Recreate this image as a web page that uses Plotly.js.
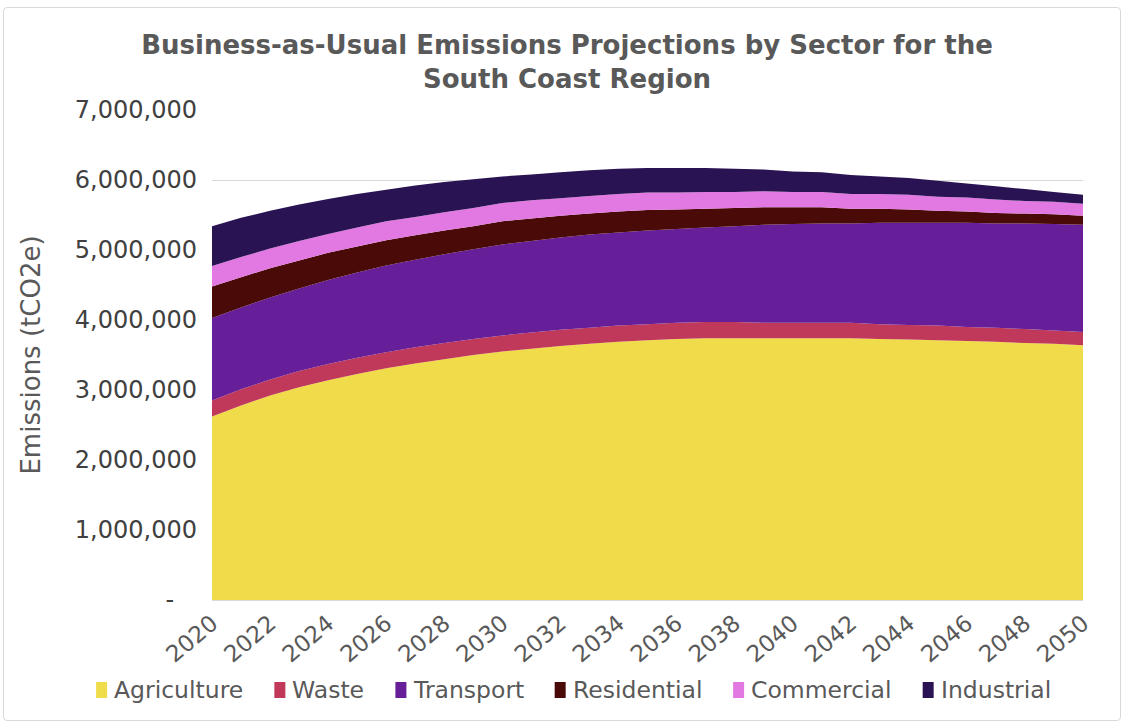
<!DOCTYPE html>
<html>
<head>
<meta charset="utf-8">
<script src="https://cdn.plot.ly/plotly-3.0.1.min.js"></script>
<style>
  html, body { margin: 0; padding: 0; background: #ffffff; }
  #wrap { position: relative; width: 1125px; height: 725px; }
  #chart { width: 1125px; height: 725px; }
  #frame { position: absolute; left: 3px; top: 7px; width: 1118px; height: 714px;
           border: 1.5px solid #d9d9d9; border-radius: 4px; pointer-events: none; box-sizing: border-box; }
</style>
</head>
<body>
<div id="wrap"><div id="chart"></div><div id="frame"></div></div>
<script>
const years = [2020,2021,2022,2023,2024,2025,2026,2027,2028,2029,2030,2031,2032,2033,2034,2035,2036,2037,2038,2039,2040,2041,2042,2043,2044,2045,2046,2047,2048,2049,2050];

const agriculture = [2620000,2780000,2920000,3040000,3140000,3230000,3310000,3380000,3440000,3500000,3550000,3590000,3630000,3660000,3690000,3710000,3730000,3740000,3740000,3740000,3740000,3740000,3740000,3730000,3720000,3710000,3700000,3690000,3670000,3660000,3640000];
const waste = [230000,230000,230000,230000,230000,230000,230000,230000,230000,230000,230000,230000,230000,230000,230000,230000,230000,230000,230000,220000,220000,220000,220000,210000,210000,210000,200000,200000,200000,190000,190000];
const transport = [1180000,1170000,1170000,1180000,1200000,1220000,1240000,1250000,1270000,1280000,1300000,1310000,1320000,1330000,1330000,1340000,1340000,1350000,1370000,1400000,1410000,1420000,1420000,1450000,1460000,1470000,1490000,1490000,1510000,1520000,1530000];
const residential = [450000,430000,420000,400000,390000,370000,360000,350000,340000,330000,330000,320000,310000,300000,300000,290000,280000,270000,260000,250000,240000,230000,210000,200000,190000,170000,160000,150000,140000,140000,130000];
const commercial = [290000,290000,280000,280000,270000,270000,270000,260000,260000,260000,260000,260000,250000,250000,250000,250000,240000,240000,230000,230000,220000,220000,210000,210000,210000,200000,200000,190000,180000,180000,170000];
const industrial = [570000,560000,540000,520000,500000,480000,450000,450000,430000,410000,380000,370000,370000,370000,360000,350000,350000,340000,330000,310000,290000,280000,270000,250000,240000,230000,200000,190000,170000,140000,130000];

const sectorNames = ["Agriculture","Waste","Transport","Residential","Commercial","Industrial"];
const sectorColors = ["#F0DC4A","#C0395A","#661E99","#4A0A07","#E279E2","#2A1352"];
const sectorValues = [agriculture, waste, transport, residential, commercial, industrial];

const yTickVals = [0,1000000,2000000,3000000,4000000,5000000,6000000,7000000];
const yTickText = ["-\u00a0\u00a0\u00a0","1,000,000","2,000,000","3,000,000","4,000,000","5,000,000","6,000,000","7,000,000"];
const xTickVals = [2020,2022,2024,2026,2028,2030,2032,2034,2036,2038,2040,2042,2044,2046,2048,2050];

const font = "DejaVu Sans, Verdana, sans-serif";
const W = 1125, H = 725;
const M = { l: 212, r: 42, t: 110, b: 125 };
const plotW = W - M.l - M.r, plotH = H - M.t - M.b;
const px2x = px => (px - M.l) / plotW;
const py2y = py => (H - M.b - py) / plotH;

const traces = sectorNames.map((name, i) => ({
  type: "scatter", x: years, y: sectorValues[i], name: name,
  stackgroup: "one", mode: "none", fillcolor: sectorColors[i],
  line: { width: 0 }, showlegend: false, hoverinfo: "x+y+name"
}));

// Excel-style legend built from the sector names and colours
const legendFontSize = 23.5;
const cv = document.createElement("canvas").getContext("2d");
cv.font = legendFontSize + "px 'DejaVu Sans'";
const sq = 11, sqGap = 6, itemGap = 32, legendCenter = 573, legendY = 690;
const widths = sectorNames.map(n => cv.measureText(n).width);
const total = widths.reduce((a, b) => a + b, 0) + sectorNames.length * (sq + sqGap) + (sectorNames.length - 1) * itemGap;
let cur = legendCenter - total / 2;
const shapes = [], annotations = [];
sectorNames.forEach((name, i) => {
  shapes.push({
    type: "rect", xref: "paper", yref: "paper",
    x0: px2x(cur), x1: px2x(cur + sq), y0: py2y(legendY + 8), y1: py2y(legendY - 8),
    fillcolor: sectorColors[i], line: { width: 0 }
  });
  annotations.push({
    xref: "paper", yref: "paper", x: px2x(cur + sq + sqGap - 1), y: py2y(legendY),
    xanchor: "left", yanchor: "middle", showarrow: false, text: name,
    font: { family: font, size: legendFontSize, color: "#595959" }
  });
  cur += sq + sqGap + widths[i] + itemGap;
});

const layout = {
  width: W, height: H,
  paper_bgcolor: "#ffffff", plot_bgcolor: "#ffffff",
  margin: M,
  font: { family: font, color: "#595959" },
  showlegend: false,
  title: {
    text: "<b>Business-as-Usual Emissions Projections by Sector for the<br>South Coast Region</b>",
    font: { family: font, size: 26, color: "#595959" },
    x: 0.504, xref: "container", xanchor: "center",
    y: 0.925, yref: "container", yanchor: "top"
  },
  xaxis: {
    type: "linear", range: [2020, 2050], tickvals: xTickVals,
    tickangle: -40, tickfont: { family: font, size: 23, color: "#595959" },
    showgrid: false, zeroline: false, showline: true, linecolor: "#d9d9d9", linewidth: 1,
    ticks: "", fixedrange: true
  },
  yaxis: {
    range: [0, 7000000], tickvals: yTickVals, ticktext: yTickText,
    tickfont: { family: font, size: 24, color: "#404040" },
    showgrid: true, gridcolor: "#d9d9d9", gridwidth: 1, zeroline: false,
    ticks: "", ticklabelstandoff: 14,
    title: { text: "Emissions (tCO2e)", font: { family: font, size: 26, color: "#595959" }, standoff: 26 },
    fixedrange: true
  },
  shapes: shapes,
  annotations: annotations
};

Plotly.newPlot("chart", traces, layout, { displayModeBar: false, staticPlot: true });
</script>
</body>
</html>
